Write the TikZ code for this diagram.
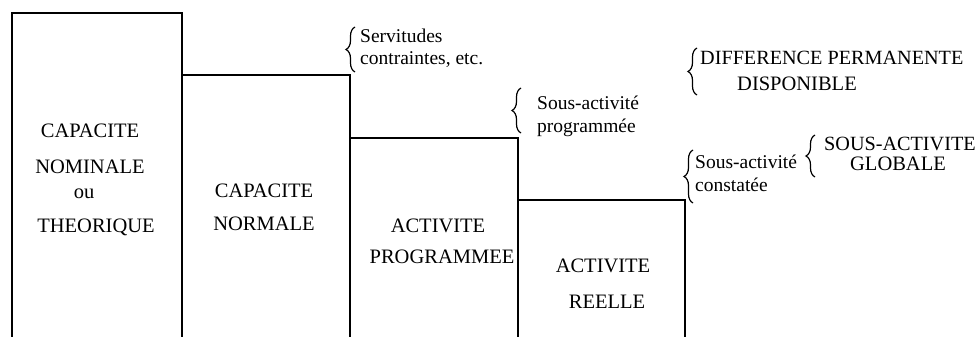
\documentclass[tikz,border=0pt]{standalone}
\usepackage{fontspec}
\setmainfont{Liberation Serif}
\usetikzlibrary{decorations.pathreplacing}
\begin{document}
\begin{tikzpicture}[x=1pt,y=1pt,
  bar/.style={line width=1.6pt, line join=miter},
  curly/.style={line width=1.2pt, decorate, decoration={brace, amplitude=9pt, aspect=0.5}},
  lab/.style={inner sep=0pt, anchor=base, font=\fontsize{20.5}{22}\selectfont},
  note/.style={inner sep=0pt, anchor=base west, font=\fontsize{19.5}{22}\selectfont},
  bignote/.style={inner sep=0pt, anchor=base west, font=\fontsize{20.2}{22}\selectfont}]
\useasboundingbox (0,0) rectangle (980,-337);
% bars
\draw[bar] (12,-337) -- (12,-13) -- (182,-13) -- (182,-337);
\draw[bar] (182,-75) -- (350,-75) -- (350,-337);
\draw[bar] (350,-138) -- (518,-138) -- (518,-337);
\draw[bar] (518,-200) -- (685,-200) -- (685,-337);
% bar labels
\node[lab] (cn1) at (90,-137) {CAPACITE};
\node[lab] (cn2) at (90,-173) {NOMINALE};
\node[lab] (cn3) at (84,-198) {ou};
\node[lab] (cn4) at (96,-232) {THEORIQUE};
\node[lab] (cr1) at (264,-197) {CAPACITE};
\node[lab] (cr2) at (264,-230) {NORMALE};
\node[lab] (ap1) at (438,-232) {ACTIVITE};
\node[lab] (ap2) at (442,-263) {PROGRAMMEE};
\node[lab] (ar1) at (603,-272) {ACTIVITE};
\node[lab] (ar2) at (607,-308) {REELLE};
% braces
\draw[curly] (355,-72) -- (355,-27);
\draw[curly] (521,-133) -- (521,-88);
\draw[curly] (693,-203) -- (693,-150);
\draw[curly] (697,-95) -- (697,-48);
\draw[curly] (815,-177) -- (815,-135);
% notes
\node[note] (s1) at (360,-43) {Servitudes};
\node[note] (s2) at (360,-64) {contraintes, etc.};
\node[note] (p1) at (537,-110) {Sous-activité};
\node[note] (p2) at (537,-132) {programmée};
\node[note] (c1) at (695,-168) {Sous-activité};
\node[note] (c2) at (695,-191) {constatée};
\node[bignote] (d1) at (700,-65) {DIFFERENCE PERMANENTE};
\node[lab] (d2) at (797,-90) {DISPONIBLE};
\node[bignote] (g1) at (824,-150) {SOUS-ACTIVITE};
\node[lab] (g2) at (898,-170) {GLOBALE};
\end{tikzpicture}
\end{document}
